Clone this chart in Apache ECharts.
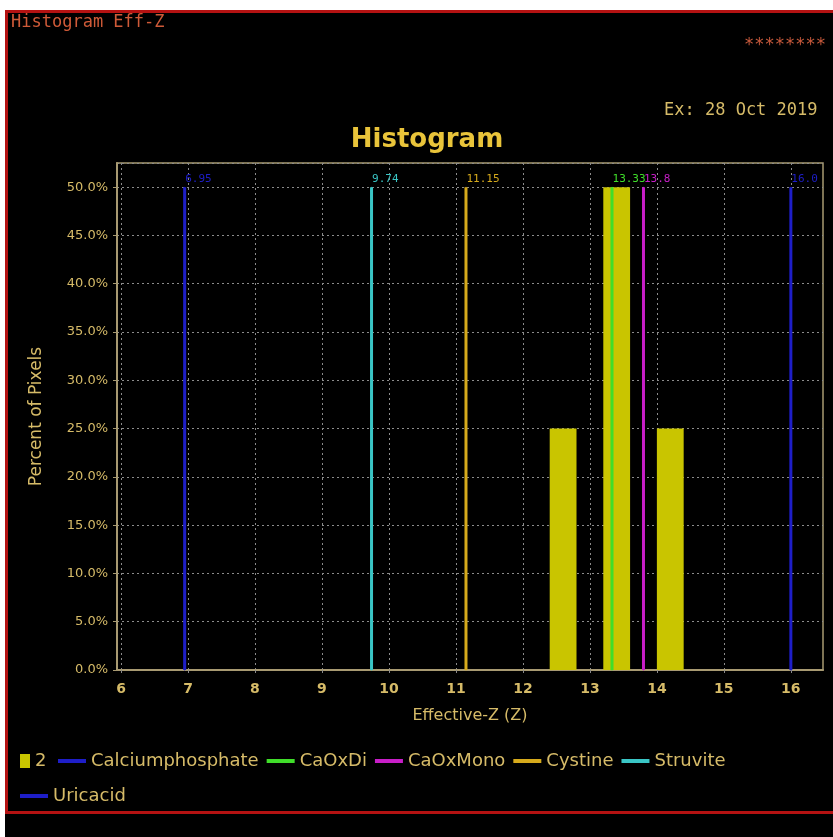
<!DOCTYPE html>
<html>
<head>
<meta charset="utf-8">
<style>
  html, body { margin: 0; padding: 0; background: #ffffff; }
  #chart { width: 833px; height: 837px; }
</style>
<script src="https://cdn.jsdelivr.net/npm/echarts@6/dist/echarts.min.js"></script>
</head>
<body>
<div id="chart"></div>
<script>
// Histogram bins of the measured sample ("2"): bin edges and percent of pixels
const binStarts = [12.4, 13.2, 14.0];
const binEnds = [12.8, 13.6, 14.4];
const binPercents = [25, 50, 25];

// Reference materials: effective-Z markers drawn as vertical lines
const refNames = ['Calciumphosphate', 'CaOxDi', 'CaOxMono', 'Cystine', 'Struvite', 'Uricacid'];
const refLabels = ['6.95', '13.33', '13.8', '11.15', '9.74', '16.0'];
const refZ = refLabels.map(Number);
const refTop = 50;

// Axis ticks
const xTicks = [6, 7, 8, 9, 10, 11, 12, 13, 14, 15, 16];

const TAN = '#d6bb68';
const barColor = '#c9c500';
const refColors = ['#1e1ec8', '#40de2a', '#c81ec8', '#d6aa1c', '#3ac6c6', '#1e1ec8'];
const SANS = '"DejaVu Sans", sans-serif';
const MONO = '"DejaVu Sans Mono", monospace';

const lineSeries = refNames.map((name, i) => ({
  name: name,
  type: 'line',
  z: 3,
  color: refColors[i],
  symbol: 'circle',
  symbolSize: 1,
  showSymbol: true,
  lineStyle: { width: 3, color: refColors[i] },
  itemStyle: { color: refColors[i] },
  animation: false,
  data: [
    [refZ[i], 0],
    {
      value: [refZ[i], refTop],
      label: {
        show: true,
        position: [1, -13],
        formatter: refLabels[i],
        color: refColors[i],
        fontFamily: MONO,
        fontSize: 11
      }
    }
  ]
}));

const lineIcon = 'path://M0,0H28V4H0Z';
const legendText = { color: TAN, fontFamily: SANS, fontSize: 18 };

const option = {
  backgroundColor: '#ffffff',
  animation: false,
  graphic: [
    { type: 'rect', z: -10, shape: { x: 5, y: 10, width: 840, height: 840 }, style: { fill: '#000000' } },
    { type: 'rect', z: -9, shape: { x: 6.5, y: 11.5, width: 860, height: 801 }, style: { fill: null, stroke: '#b41212', lineWidth: 3 } },
    { type: 'text', left: 11, top: 14, style: { text: 'Histogram Eff-Z', fill: '#cf5a38', font: '17px ' + MONO } },
    { type: 'text', left: 744, top: 37, style: { text: '********', fill: '#c85a3c', font: '17px ' + MONO } },
    { type: 'text', left: 664, top: 102, style: { text: 'Ex: 28 Oct 2019', fill: TAN, font: '17px ' + MONO } }
  ],
  title: {
    text: 'Histogram',
    left: 422,
    top: 122,
    textAlign: 'center',
    textStyle: { color: '#e9c43a', fontFamily: SANS, fontSize: 26, fontWeight: 'bold' }
  },
  legend: [
    {
      data: [{ name: '2', icon: 'rect' }],
      left: 15, top: 747,
      itemWidth: 10, itemHeight: 14, itemGap: 9,
      textStyle: legendText,
      selectedMode: false
    },
    {
      data: refNames.slice(0, 5).map(n => ({ name: n, icon: lineIcon })),
      left: 53, top: 747,
      itemWidth: 28, itemHeight: 14, itemGap: 8,
      textStyle: legendText,
      selectedMode: false
    },
    {
      data: [{ name: 'Uricacid', icon: lineIcon }],
      left: 15, top: 782,
      itemWidth: 28, itemHeight: 14,
      textStyle: legendText,
      selectedMode: false
    }
  ],
  grid: {
    left: 117, right: 10, top: 163, bottom: 167,
    show: true, borderColor: '#a89a72', borderWidth: 1.5,
    containLabel: false
  },
  xAxis: {
    type: 'value',
    min: 5.94,
    max: 16.48,
    name: 'Effective-Z (Z)',
    nameLocation: 'middle',
    nameGap: 38,
    nameTextStyle: { color: TAN, fontFamily: SANS, fontSize: 16 },
    axisLine: { show: true, lineStyle: { color: '#a89a72', width: 2 } },
    axisTick: { show: true, customValues: xTicks, length: 3, lineStyle: { color: '#8a8a8a' } },
    axisLabel: {
      customValues: xTicks, color: TAN, fontFamily: SANS, fontSize: 14, fontWeight: 'bold', margin: 12
    },
    splitLine: { show: true, lineStyle: { color: '#8c8c8c', type: [2, 3], width: 1 } }
  },
  yAxis: {
    type: 'value',
    min: 0,
    max: 52.5,
    interval: 5,
    name: 'Percent of Pixels',
    nameLocation: 'middle',
    nameGap: 72,
    nameTextStyle: { color: TAN, fontFamily: SANS, fontSize: 17 },
    axisLine: { show: true, lineStyle: { color: '#a89a72', width: 2 } },
    axisTick: { show: true, length: 4, lineStyle: { color: '#a89a72' } },
    axisLabel: {
      color: TAN, fontFamily: SANS, fontSize: 13, margin: 9,
      showMaxLabel: false,
      formatter: v => v.toFixed(1) + '%'
    },
    splitLine: { show: true, lineStyle: { color: '#8c8c8c', type: [2, 3], width: 1 } }
  },
  series: [
    {
      name: '2',
      type: 'custom',
      z: 2,
      color: barColor,
      itemStyle: { color: barColor },
      encode: { x: [0, 1], y: 2 },
      data: binStarts.map((s, i) => [s, binEnds[i], binPercents[i]]),
      renderItem: function (params, api) {
        const topLeft = api.coord([api.value(0), api.value(2)]);
        const bottomRight = api.coord([api.value(1), 0]);
        return {
          type: 'rect',
          shape: {
            x: topLeft[0],
            y: topLeft[1],
            width: bottomRight[0] - topLeft[0],
            height: bottomRight[1] - topLeft[1]
          },
          style: { fill: barColor }
        };
      }
    }
  ].concat(lineSeries)
};

const chart = echarts.init(document.getElementById('chart'), null, { renderer: 'canvas' });
chart.setOption(option);
</script>
</body>
</html>
